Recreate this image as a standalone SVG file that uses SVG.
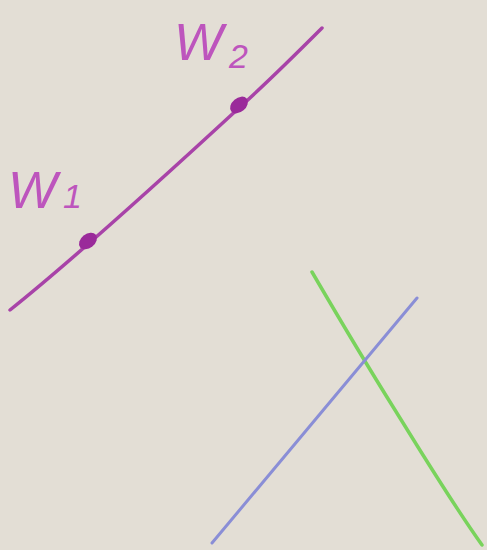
<svg xmlns="http://www.w3.org/2000/svg" width="487" height="550" viewBox="0 0 487 550">
<style>
.m{stroke:#a843a8;stroke-width:3.5;fill:none;stroke-linecap:round}
.lbl{font-family:"Liberation Sans",sans-serif;fill:#bd55bd;font-style:italic}
.dot{fill:#9a2a9a}
</style>
<rect width="487" height="550" fill="#e3ded5"/>
<g id="line-w">
<path class="m" d="M10,310 C60,270 150,190 240,107 C270,80 300,50 322,28"/>
</g>
<g id="w1">
<ellipse class="dot" cx="88" cy="241" rx="10" ry="7" transform="rotate(-38 88 241)"/>
<text class="lbl" x="8" y="208" font-size="52">W<tspan font-size="34" dx="6">1</tspan></text>
</g>
<g id="w2">
<ellipse class="dot" cx="239" cy="105" rx="10" ry="7" transform="rotate(-40 239 105)"/>
<text class="lbl" x="174" y="60" font-size="52">W<tspan font-size="34" dx="6" dy="8">2</tspan></text>
</g>
<g id="green-line">
<path d="M312,272 C340,320 370,370 395,410 C420,450 450,500 482,545" stroke="#79d35c" stroke-width="3.5" fill="none" stroke-linecap="round"/>
</g>
<g id="blue-line">
<path d="M417,298 L212,543" stroke="#8a8ed6" stroke-width="3" fill="none" stroke-linecap="round"/>
</g>
</svg>
